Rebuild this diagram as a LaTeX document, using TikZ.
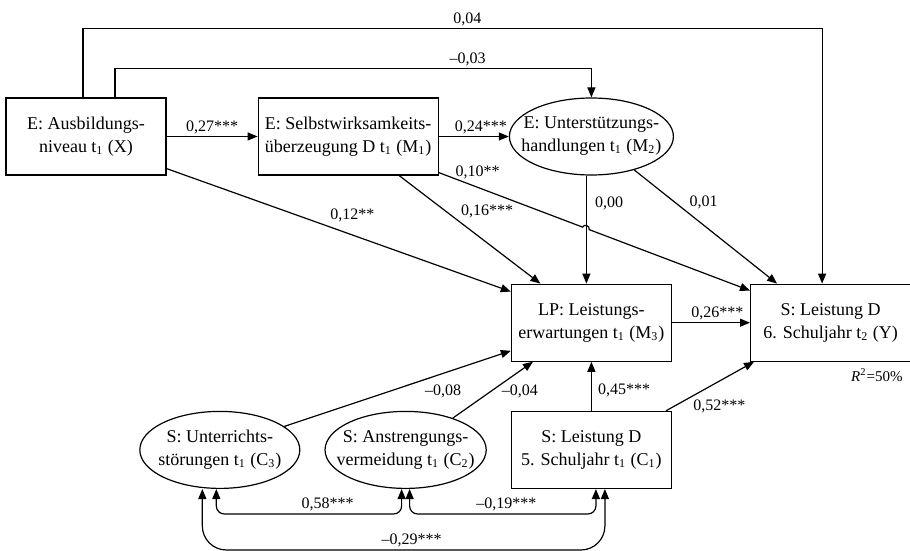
\documentclass[tikz,border=0pt]{standalone}
\usepackage{fontspec}
\setmainfont{Liberation Serif}
\usetikzlibrary{positioning,calc,arrows.meta,shapes.geometric}

\begin{document}
\begin{tikzpicture}[
                line width=0.6pt,
                >={Triangle[length=5pt,width=4pt]},
                box/.style={draw,rectangle,align=center,minimum width=80pt,minimum height=38.5pt,inner sep=2pt,font=\fontsize{9}{11.5}\selectfont},
                oval/.style={draw,ellipse,align=center,minimum width=80pt,minimum height=38.5pt,inner xsep=-6pt,inner ysep=0pt,font=\fontsize{9}{11.5}\selectfont},
                lbl/.style={inner sep=1pt,font=\fontsize{8}{9.6}\selectfont},
                arr/.style={->},
                cor/.style={<->}
            ]
                \useasboundingbox (-43pt,68.25pt) rectangle (412pt,-207.25pt);

                \node (X)  [box] at (0,0) {E: Ausbildungs-\\niveau t\textsubscript{1} (X)};
                \node (M1) [box,minimum width=90pt,right=45.5pt of X] {E: Selbstwirksamkeits-\\überzeugung D t\textsubscript{1} (M\textsubscript{1})};
                \node (M2) [oval,right=35pt of M1] {E: Unterstützungs-\\handlungen t\textsubscript{1} (M\textsubscript{2})};
                \node (M3) [box,below=54pt of M2] {LP: Leistungs-\\erwartungen t\textsubscript{1} (M\textsubscript{3})};
                \node (Y)  [box,right=39pt of M3] {S: Leistung D\\6. Schuljahr t\textsubscript{2} (Y)};
                \node (C1) [box,below=24.5pt of M3] {S: Leistung D\\5. Schuljahr t\textsubscript{1} (C\textsubscript{1})};
                \node (C2) [oval,left=12pt of C1] {S: Anstrengungs-\\vermeidung t\textsubscript{1} (C\textsubscript{2})};
                \node (C3) [oval,left=12pt of C2] {S: Unterrichts-\\störungen t\textsubscript{1} (C\textsubscript{3})};
                \node (R)  [lbl,anchor=north east,font=\fontsize{7.5}{9}\selectfont] at ([xshift=-3pt,yshift=-2pt]Y.south east) {\textit{R}\textsuperscript{2}=50\%};

                % direct paths over the top
                \draw[arr] ([xshift=-1.5pt]X.north) -- ++(0,34.5pt) -| node[lbl,above,pos=0.26] {0,04} ([xshift=-4.25pt]Y.north);
                \draw[arr] ([xshift=14.5pt]X.north) -- ++(0,14.5pt) -| node[lbl,above,pos=0.37] {–0,03} (M2.north);

                \draw[arr] (X) -- node[lbl,above] {0,27***} (M1);
                \draw[arr] (M1) -- node[lbl,above,pos=0.6] {0,24***} (M2);
                \draw[arr] ([yshift=3.5pt]X.south east) -- node[lbl,above=5pt,pos=0.54] {0,12**} ([yshift=-4pt]M3.north west);
                \draw[arr] ([xshift=25.5pt]M1.south) -- node[lbl,anchor=south west,pos=0.42] {0,16***} ([xshift=-25.5pt]M3.north);
                \draw[arr] ([xshift=-2.5pt]M2.south) -- node[lbl,right=3pt,pos=0.26] {0,00} ([xshift=-2.5pt]M3.north);
                \draw[arr] (M2.-38) -- node[lbl,anchor=south west,pos=0.37] {0,01} ([xshift=-26.75pt]Y.north);

                % M1 -> Y jumps over the 0,00 line
                \coordinate (m1a) at ([yshift=1.5pt]M1.south east);
                \coordinate (yb) at ([yshift=-3.5pt]Y.north west);
                \draw[arr] (m1a) -- node[lbl,above=3pt,pos=0.27] {0,10**} ($(m1a)!0.462!(yb)$) to[bend left=90,looseness=1.4] ($(m1a)!0.483!(yb)$) -- (yb);

                \draw[arr] (M3) -- node[lbl,above,pos=0.58] {0,26***} (Y);
                \draw[arr] (C1) -- node[lbl,right=2pt,pos=0.41] {0,45***} (M3);
                \draw[arr] ([xshift=-3pt]C1.north east) -- node[lbl,anchor=north west,pos=0.28] {0,52***} ([xshift=2pt]Y.south west);
                \draw[arr] (C3.20) -- node[lbl,anchor=north west,pos=0.61,yshift=-1pt] {–0,08} ([yshift=5.5pt]M3.south west);
                \draw[arr] (C2.34) -- node[lbl,right=4pt,pos=0.48] {–0,04} ([xshift=-29.25pt]M3.south);

                % correlations
                \draw[cor,rounded corners=4pt] ([xshift=-1.75pt]C3.south) -- ++(0,-12.5pt) -| node[lbl,above,pos=0.3] {0,58***} ([xshift=-2pt]C2.south);
                \draw[cor,rounded corners=4pt] ([xshift=2pt]C2.south) -- ++(0,-12.5pt) -| node[lbl,above,pos=0.26] {–0,19***} ([xshift=2.25pt]C1.south);
                \draw[cor,rounded corners=12pt] ([xshift=-8.75pt]C3.south) -- ++(0,-30.5pt) -| node[lbl,above,pos=0.26] {–0,29***} ([xshift=6.75pt]C1.south);
            \end{tikzpicture}
\end{document}
